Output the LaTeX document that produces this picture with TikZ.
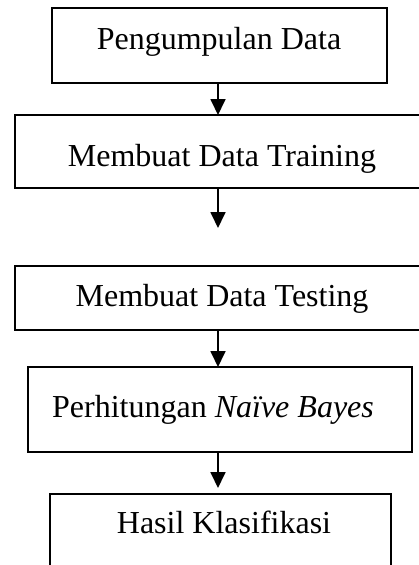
\documentclass[tikz,border=0pt]{standalone}
\usepackage{fontspec}
\setmainfont{Liberation Serif}
\usetikzlibrary{arrows.meta}
\begin{document}
\begin{tikzpicture}[x=1pt,y=-1pt,
  boxstyle/.style={draw,line width=1.8pt},
  lbl/.style={anchor=base,inner sep=0pt,font=\fontsize{32}{38}\selectfont},
  arr/.style={line width=1.8pt,-{Triangle[width=15pt,length=16pt]}}]
\clip (0,0) rectangle (419,565);
\fill[white] (0,0) rectangle (419,565);
% boxes
\draw[boxstyle] (52,8) rectangle (387,83);
\coordinate (b1s) at (218,83);
\draw[boxstyle] (15,115) rectangle (430,188);
\coordinate (b2n) at (218,115);
\coordinate (b2s) at (218,188);
\draw[boxstyle] (15,266) rectangle (430,330);
\coordinate (b3n) at (218,228);
\coordinate (b3s) at (218,330);
\draw[boxstyle] (28,367) rectangle (412,452);
\coordinate (b4n) at (218,367);
\coordinate (b4s) at (218,452);
\draw[boxstyle] (50,494) rectangle (391,600);
\coordinate (b5n) at (218,488);
% texts
\node[lbl] (t1) at (219,49) {Pengumpulan Data};
\node[lbl] (t2) at (222,166) {Membuat Data Training};
\node[lbl] (t3) at (222,306) {Membuat Data Testing};
\node[lbl] (t4) at (213,417) {Perhitungan \textit{Naïve Bayes}};
\node[lbl] (t5) at (224,533) {Hasil Klasifikasi};
% arrows
\draw[arr] (b1s) -- (b2n);
\draw[arr] (b2s) -- (b3n);
\draw[arr] (b3s) -- (b4n);
\draw[arr] (b4s) -- (b5n);
\end{tikzpicture}
\end{document}
